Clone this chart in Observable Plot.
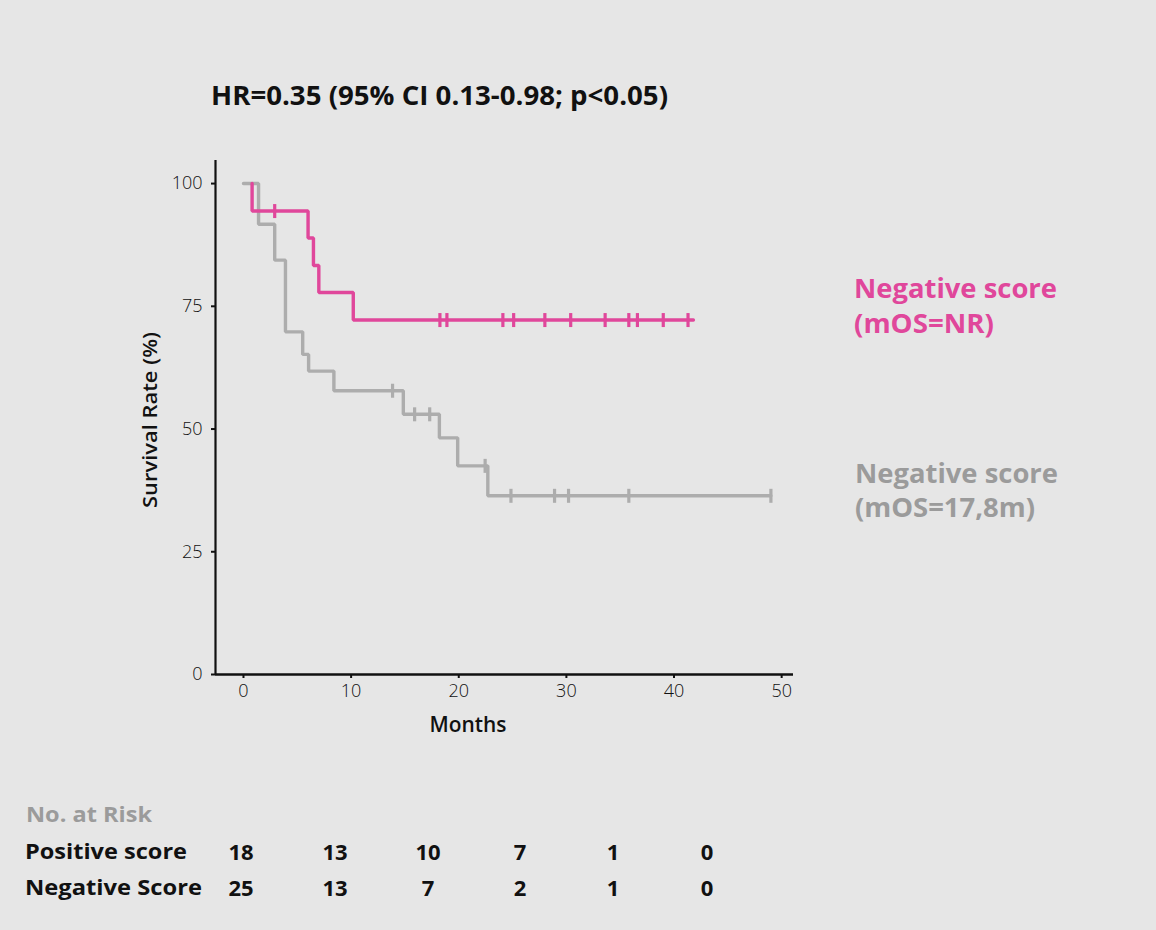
<!DOCTYPE html>
<html><head><meta charset="utf-8">
<script src="https://cdn.jsdelivr.net/npm/d3@7"></script>
<script src="https://cdn.jsdelivr.net/npm/@observablehq/plot@0.6"></script>
<style>
html,body{margin:0;padding:0;background:#e6e6e6;}
#wrap{position:relative;width:1156px;height:930px;background:#e6e6e6;overflow:hidden;}
#chart,#overlay{position:absolute;left:0;top:0;}
</style></head><body><div id="wrap"><div id="chart"></div><svg id="overlay" width="1156" height="930"></svg></div>
<script>
// ---- data ----
const title = "HR=0.35 (95% CI 0.13-0.98; p<0.05)";
const xLabel = "Months";
const yLabel = "Survival Rate (%)";
const xTicks = [0, 10, 20, 30, 40, 50];
const yTicks = [0, 25, 50, 75, 100];
const xDomain = [-2.6, 51.1];
const yDomain = [0, 104.7];

// pink curve (labelled "Negative score (mOS=NR)")
const pinkTimes = [0.8, 0.8, 6.0, 6.5, 7.0, 10.2, 41.8];
const pinkSurv  = [100, 94.4, 88.9, 83.3, 77.8, 72.2, 72.2];
const pinkCensorTimes = [2.9, 18.25, 18.9, 24.1, 25.1, 28.0, 30.4, 33.6, 35.8, 36.6, 39.0, 41.3];
const pinkCensorSurv  = [94.4, 72.2, 72.2, 72.2, 72.2, 72.2, 72.2, 72.2, 72.2, 72.2, 72.2, 72.2];

// gray curve (labelled "Negative score (mOS=17,8m)")
const grayTimes = [0, 1.4, 2.9, 3.9, 5.5, 6.05, 8.4, 14.85, 18.2, 19.9, 22.7, 49.0];
const graySurv  = [100, 91.7, 84.4, 69.8, 65.2, 61.8, 57.8, 53.0, 48.2, 42.5, 36.4, 36.4];
const grayCensorTimes = [13.85, 15.9, 17.3, 22.45, 24.85, 28.9, 30.2, 35.8, 49.0];
const grayCensorSurv  = [57.8, 53.0, 53.0, 42.5, 36.4, 36.4, 36.4, 36.4, 36.4];

const legendPink = ["Negative score", "(mOS=NR)"];
const legendGray = ["Negative score", "(mOS=17,8m)"];

const riskTitle = "No. at Risk";
const riskGroups = ["Positive score", "Negative Score"];
const riskPositive = [18, 13, 10, 7, 1, 0];
const riskNegative = [25, 13, 7, 2, 1, 0];

const pinkColor = "#e0479b";
const grayColor = "#adadad";
const grayText = "#9b9b9b";

// ---- build tables ----
const pinkLine = pinkTimes.map((t, i) => ({t, s: pinkSurv[i]}));
const grayLine = grayTimes.map((t, i) => ({t, s: graySurv[i]}));
const pinkCens = pinkCensorTimes.map((t, i) => ({t, s: pinkCensorSurv[i]}));
const grayCens = grayCensorTimes.map((t, i) => ({t, s: grayCensorSurv[i]}));

const vbar = {draw(ctx, size) { const h = Math.sqrt(size / Math.PI); ctx.moveTo(0, -h); ctx.lineTo(0, h); }};

const chart = Plot.plot({
  width: 1156, height: 760,
  marginLeft: 215, marginRight: 363, marginTop: 160, marginBottom: 86,
  style: {background: "transparent", color: "#111", fontFamily: "'Open Sans', sans-serif"},
  x: {domain: xDomain},
  y: {domain: yDomain},
  marks: [
    Plot.axisX({ticks: xTicks, tickSize: 4, tickPadding: 6, fontSize: 18, fontWeight: 300, label: null, strokeWidth: 2}),
    Plot.axisY({ticks: yTicks, tickSize: 4, tickPadding: 9, fontSize: 18, fontWeight: 300, label: null, strokeWidth: 2}),
    Plot.ruleX([xDomain[0]], {stroke: "#111", strokeWidth: 2.2}),
    Plot.ruleY([yDomain[0]], {stroke: "#111", strokeWidth: 2.6}),
    Plot.line(grayLine, {x: "t", y: "s", curve: "step-after", stroke: grayColor, strokeWidth: 3.4, strokeLinejoin: "miter"}),
    Plot.dot(grayCens, {x: "t", y: "s", symbol: vbar, r: 7, fill: "none", stroke: grayColor, strokeWidth: 3.2}),
    Plot.line(pinkLine, {x: "t", y: "s", curve: "step-after", stroke: pinkColor, strokeWidth: 3.4, strokeLinejoin: "miter"}),
    Plot.dot(pinkCens, {x: "t", y: "s", symbol: vbar, r: 7, fill: "none", stroke: pinkColor, strokeWidth: 3.2})
  ]
});
document.getElementById("chart").appendChild(chart);

// ---- texts ----
const ov = d3.select("#overlay").style("font-family", "'Open Sans', sans-serif");
function txt(x, y, s, o = {}) {
  const t = ov.append("text").attr("x", x).attr("y", y).text(s)
    .attr("font-size", o.size || 20).attr("font-weight", o.weight || 700)
    .attr("fill", o.fill || "#111").attr("text-anchor", o.anchor || "start");
  if (o.len) t.attr("textLength", o.len).attr("lengthAdjust", "spacingAndGlyphs");
  if (o.transform) t.attr("transform", o.transform);
  return t;
}
txt(211, 105, title, {size: 27.5, weight: 700, len: 457});
txt(854, 298, legendPink[0], {size: 26, weight: 700, fill: pinkColor, len: 203});
txt(854, 333, legendPink[1], {size: 26, weight: 700, fill: pinkColor, len: 140});
txt(855, 483, legendGray[0], {size: 26, weight: 700, fill: grayText, len: 203});
txt(855, 517, legendGray[1], {size: 26, weight: 700, fill: grayText, len: 180});
txt(0, 0, yLabel, {size: 20, weight: 600, anchor: "middle", len: 176, transform: "translate(157,420) rotate(-90)"});
txt(468, 732, xLabel, {size: 21, weight: 600, anchor: "middle", len: 77});

txt(26, 822, riskTitle, {size: 21, weight: 700, fill: grayText, len: 126});
const cols = [241, 335, 428, 520, 613, 707];
txt(25, 859, riskGroups[0], {size: 21, weight: 700, len: 162});
txt(25, 895, riskGroups[1], {size: 21, weight: 700, len: 177});
riskPositive.forEach((v, i) => txt(cols[i], 860, v, {size: 22, weight: 700, anchor: "middle"}));
riskNegative.forEach((v, i) => txt(cols[i], 896, v, {size: 22, weight: 700, anchor: "middle"}));
</script></body></html>
